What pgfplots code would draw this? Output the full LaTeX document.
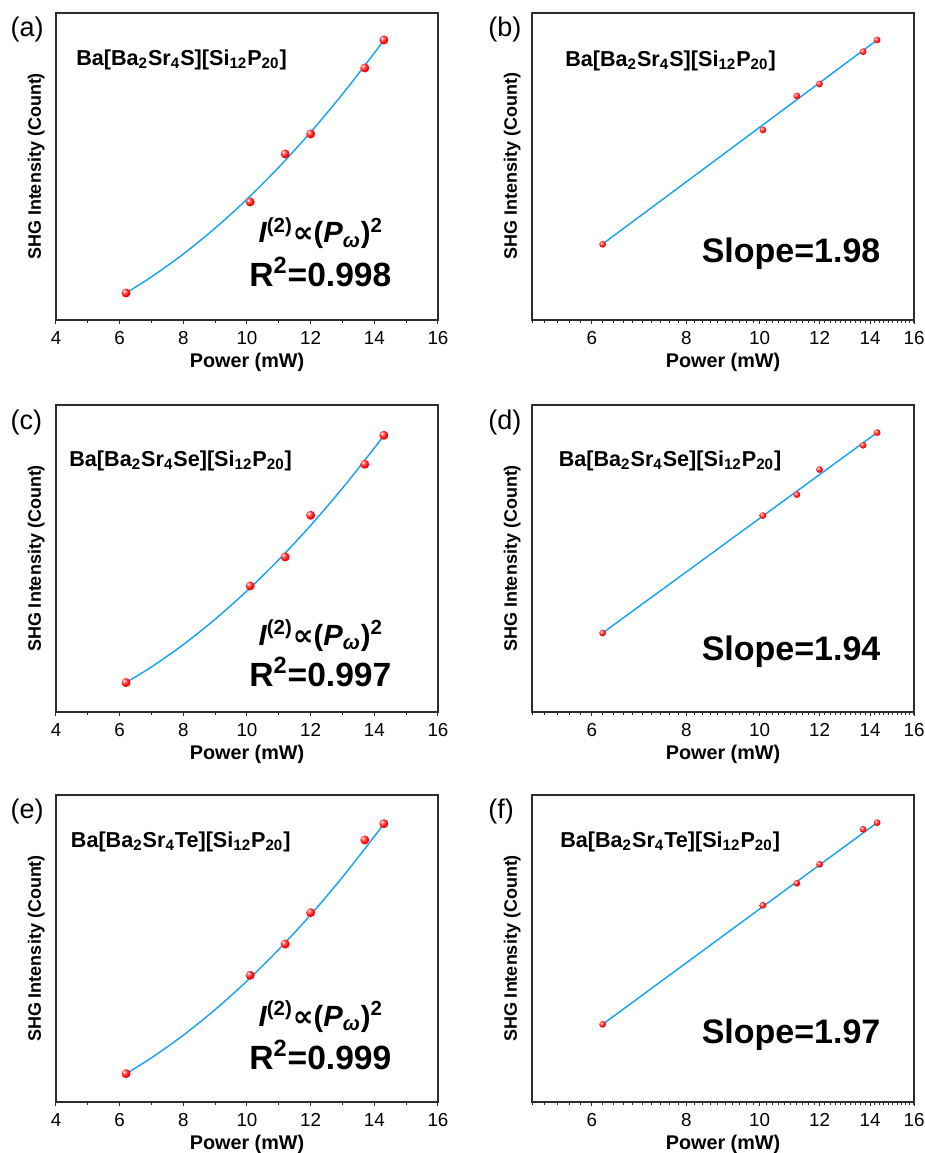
\documentclass[border=0pt]{standalone}
\usepackage{fontspec}
\setmainfont{Liberation Sans}
\newfontfamily\dejavu{DejaVu Sans}
\usepackage{pgfplots}
\pgfplotsset{compat=1.18}

\definecolor{fitblue}{RGB}{30,165,240}
\definecolor{axgray}{RGB}{45,45,45}

% glossy red dot, light spot top-left, no dark rim
\pgfdeclareradialshading{rballshade}{\pgfpoint{-12bp}{12bp}}{color(0bp)=(white); color(7bp)=(red!45!white); color(20bp)=(red!95!white); color(40bp)=(red!90!black); color(60bp)=(red!80!black)}
\pgfdeclareplotmark{rball}{\pgfpathcircle{\pgfpointorigin}{\pgfplotmarksize}\pgfshadepath{rballshade}{0}\pgfusepath{}}

\pgfplotsset{
  shg/.style={
    scale only axis, width=191pt, height=153.5pt, anchor=south west,
    ymin=0, ymax=307, ytick=\empty,
    axis line style={axgray, line width=0.55pt},
    xtick pos=bottom, tick align=outside,
    major tick length=2.2pt, minor tick length=1.3pt,
    every tick/.style={axgray, line width=0.5pt},
    tick label style={font=\fontsize{9.4}{11}\selectfont},
    /pgf/number format/assume math mode=true,
    xlabel={Power (mW)}, ylabel={SHG Intensity (Count)},
    xlabel style={font=\fontsize{9.9}{11}\selectfont\bfseries, at={(axis description cs:0.5,-0.138)}, anchor=center},
    ylabel style={font=\fontsize{9}{11}\selectfont\bfseries, at={(axis description cs:-0.052,0.5)}, anchor=center},
    clip=false,
  },
  quad/.style={shg, xmin=4, xmax=16, xtick={4,6,...,16}, minor x tick num=1},
  loglin/.style={shg, xmin=5, xmax=16,
    xtick={6,8,10,12,14,16}, xticklabels={6,8,10,12,14,16},
    minor xtick={5,5.2,...,16}},
  fitline/.style={fitblue, line width=0.75pt, mark=none},
  pts/.style={only marks, mark=rball, mark size=#1},
}
\tikzset{
  comp/.style={anchor=west, inner sep=0pt, font=\fontsize{10.8}{12}\selectfont\bfseries},
  tag/.style={anchor=west, inner sep=0pt, font=\fontsize{13.5}{15}\selectfont},
  big/.style={anchor=east, inner sep=0pt, font=\fontsize{16.8}{18}\selectfont\bfseries},
  law/.style={anchor=east, inner sep=0pt, font=\fontsize{14.6}{16}\selectfont\bfseries},
  slope/.style={anchor=east, inner sep=0pt, font=\fontsize{17}{19}\selectfont\bfseries},
}
\newcommand{\law}{{\itshape I}\textsuperscript{(2)}{\dejavu\bfseries ∝}({\itshape P}\textsubscript{\itshape ω})\textsuperscript{2}}

\begin{document}
\begin{tikzpicture}
\useasboundingbox (0,0) rectangle (462.5pt,576.5pt);

% (a)
\begin{axis}[quad, at={(28pt,416.5pt)}]
\addplot[fitline, smooth] coordinates {(6.2,27.0) (7,43.1) (8,66.0) (9,91.9) (10,120.8) (11,152.8) (12,187.8) (13,225.9) (14,267.0) (14.3,279.9)};
\addplot[pts=2.25pt] coordinates {(6.2,27) (10.1,118) (11.2,166) (12,186) (13.7,252) (14.3,280)};
\node[tag] at (rel axis cs:-0.12,0.945) {(a)};
\node[comp] at (rel axis cs:0.052,0.847) {Ba[Ba\textsubscript{2}Sr\textsubscript{4}S][Si\textsubscript{12}P\textsubscript{20}]};
\node[law] at (rel axis cs:0.857,0.283) {\law};
\node[big] at (rel axis cs:0.879,0.157) {R\textsuperscript{2}=0.998};
\end{axis}

% (b)
\begin{axis}[xmode=log, loglin, at={(266pt,416.5pt)}]
\addplot[fitline] coordinates {(6.2,76) (14.3,280)};
\addplot[pts=1.7pt] coordinates {(6.2,75.7) (10.1,190) (11.2,224) (12,236) (13.7,268.3) (14.3,280)};
\node[tag] at (rel axis cs:-0.115,0.945) {(b)};
\node[comp] at (rel axis cs:0.086,0.845) {Ba[Ba\textsubscript{2}Sr\textsubscript{4}S][Si\textsubscript{12}P\textsubscript{20}]};
\node[slope] at (rel axis cs:0.913,0.217) {Slope=1.98};
\end{axis}

% (c)
\begin{axis}[quad, at={(28pt,220.5pt)}]
\addplot[fitline, smooth] coordinates {(6.2,29.4) (7,45.1) (8,67.4) (9,92.8) (10,121.1) (11,152.3) (12,186.6) (13,223.8) (14,264.0) (14.3,276.6)};
\addplot[pts=2.25pt] coordinates {(6.2,29.4) (10.1,126) (11.2,155) (12,196.7) (13.7,247.7) (14.3,276.7)};
\node[tag] at (rel axis cs:-0.12,0.943) {(c)};
\node[comp] at (rel axis cs:0.034,0.818) {Ba[Ba\textsubscript{2}Sr\textsubscript{4}Se][Si\textsubscript{12}P\textsubscript{20}]};
\node[law] at (rel axis cs:0.857,0.249) {\law};
\node[big] at (rel axis cs:0.879,0.130) {R\textsuperscript{2}=0.997};
\end{axis}

% (d)
\begin{axis}[xmode=log, loglin, at={(266pt,220.5pt)}]
\addplot[fitline] coordinates {(6.2,79) (14.3,279.4)};
\addplot[pts=1.7pt] coordinates {(6.2,79) (10.1,196.4) (11.2,217.4) (12,242.4) (13.7,266.7) (14.3,279.4)};
\node[tag] at (rel axis cs:-0.115,0.943) {(d)};
\node[comp] at (rel axis cs:0.069,0.818) {Ba[Ba\textsubscript{2}Sr\textsubscript{4}Se][Si\textsubscript{12}P\textsubscript{20}]};
\node[slope] at (rel axis cs:0.913,0.195) {Slope=1.94};
\end{axis}

% (e)
\begin{axis}[quad, at={(28pt,25.5pt)}]
\addplot[fitline, smooth] coordinates {(6.2,28.3) (7,44.2) (8,66.8) (9,92.4) (10,121.0) (11,152.6) (12,187.2) (13,224.9) (14,265.5) (14.3,278.3)};
\addplot[pts=2.25pt] coordinates {(6.2,28.3) (10.1,126.7) (11.2,158) (12,189.3) (13.7,262) (14.3,278.3)};
\node[tag] at (rel axis cs:-0.12,0.946) {(e)};
\node[comp] at (rel axis cs:0.038,0.848) {Ba[Ba\textsubscript{2}Sr\textsubscript{4}Te][Si\textsubscript{12}P\textsubscript{20}]};
\node[law] at (rel axis cs:0.857,0.278) {\law};
\node[big] at (rel axis cs:0.879,0.153) {R\textsuperscript{2}=0.999};
\end{axis}

% (f)
\begin{axis}[xmode=log, loglin, at={(266pt,25.5pt)}]
\addplot[fitline] coordinates {(6.2,77.7) (14.3,279.3)};
\addplot[pts=1.7pt] coordinates {(6.2,77.7) (10.1,196.7) (11.2,218.7) (12,237.7) (13.7,272.7) (14.3,279.3)};
\node[tag] at (rel axis cs:-0.115,0.946) {(f)};
\node[comp] at (rel axis cs:0.073,0.848) {Ba[Ba\textsubscript{2}Sr\textsubscript{4}Te][Si\textsubscript{12}P\textsubscript{20}]};
\node[slope] at (rel axis cs:0.913,0.218) {Slope=1.97};
\end{axis}
\end{tikzpicture}
\end{document}
